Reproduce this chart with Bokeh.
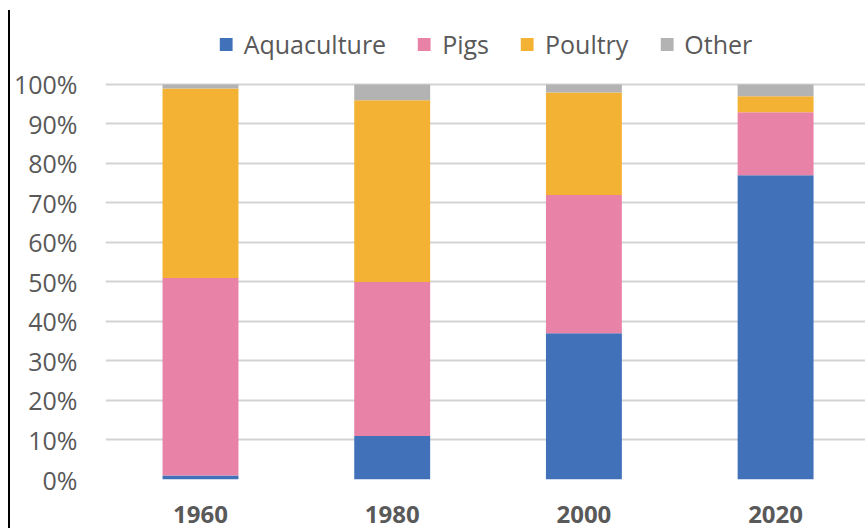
from bokeh.plotting import figure
from bokeh.models import Range1d, FixedTicker, Spacer, ColumnDataSource
from bokeh.layouts import row
from bokeh.embed import file_html
from bokeh.resources import INLINE

years = ["1960", "1980", "2000", "2020"]
series = ["Aquaculture", "Pigs", "Poultry", "Other"]
aquaculture = [1, 11, 37, 77]
pigs = [50, 39, 35, 16]
poultry = [48, 46, 26, 4]
other = [1, 4, 2, 3]
colors = ["#4071B9", "#E882A6", "#F4B234", "#B3B3B3"]
y_ticks = [0, 10, 20, 30, 40, 50, 60, 70, 80, 90, 100]

x = list(range(len(years)))
src = ColumnDataSource(dict(x=x, Aquaculture=aquaculture, Pigs=pigs,
                            Poultry=poultry, Other=other))

FONT = "Open Sans"
TXT = "#595959"

p = figure(width=855, height=528, output_backend="svg", toolbar_location=None,
           x_range=Range1d(-0.4956, 3.469), y_range=Range1d(0, 118.73),
           min_border_left=95, min_border_right=0, min_border_top=10,
           min_border_bottom=49)
p.outline_line_color = None

p.vbar_stack(series, x="x", width=0.396, color=colors, line_color=None,
             source=src, legend_label=series)

p.xgrid.grid_line_color = None
p.ygrid.grid_line_color = "#D3D3D3"
p.ygrid.grid_line_width = 2
p.yaxis.ticker = FixedTicker(ticks=y_ticks)
p.yaxis.major_label_overrides = {t: f"{t}%" for t in y_ticks}
p.yaxis.axis_line_color = None
p.yaxis.major_tick_line_color = None
p.yaxis.minor_tick_line_color = None
p.yaxis.major_label_standoff = 22
p.yaxis.major_label_text_font = FONT
p.yaxis.major_label_text_font_size = "25px"
p.yaxis.major_label_text_color = TXT

p.xaxis.ticker = FixedTicker(ticks=x)
p.xaxis.major_label_overrides = {i: y for i, y in enumerate(years)}
p.xaxis.axis_line_color = None
p.xaxis.major_tick_line_color = None
p.xaxis.minor_tick_line_color = None
p.xaxis.major_label_standoff = 20
p.xaxis.major_label_text_font = FONT
p.xaxis.major_label_text_font_size = "24px"
p.xaxis.major_label_text_font_style = "bold"
p.xaxis.major_label_text_color = TXT

lg = p.legend[0]
lg.location = "top_center"
lg.orientation = "horizontal"
lg.background_fill_alpha = 0
lg.border_line_color = None
lg.label_text_font = FONT
lg.label_text_font_size = "25px"
lg.label_text_color = TXT
lg.glyph_width = 16
lg.glyph_height = 16
lg.label_standoff = 10
lg.spacing = 30
lg.margin = 17
lg.padding = 0

line = Spacer(width=2, height=518, margin=(10, 0, 0, 8),
              styles={"background-color": "#000000"})

layout = row(line, p)
open("out.html", "w").write(file_html(layout, INLINE))
